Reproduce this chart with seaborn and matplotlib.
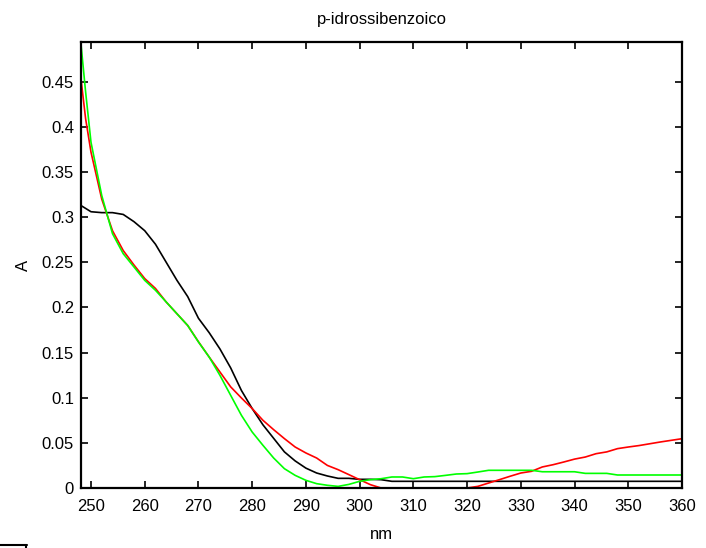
import numpy as np
import pandas as pd
import matplotlib
matplotlib.use("Agg")
import matplotlib.pyplot as plt
from matplotlib.lines import Line2D
import seaborn as sns

# Absorbance spectra of p-hydroxybenzoic acid, wavelength in nm
nm_black = [248.1, 250, 252, 254, 256, 258, 260, 262, 264, 266, 268, 270, 272, 274,
            276, 278, 280, 282, 284, 286, 288, 290, 292, 294, 296, 298, 300, 302,
            304, 306, 310, 320, 330, 340, 350, 360]
a_black = [0.313, 0.306, 0.305, 0.305, 0.303, 0.295, 0.285, 0.270, 0.250, 0.230,
           0.212, 0.188, 0.172, 0.154, 0.133, 0.108, 0.088, 0.070, 0.055, 0.040,
           0.030, 0.022, 0.0166, 0.0133, 0.0107, 0.0107, 0.0096, 0.0096, 0.0092,
           0.0074, 0.0074, 0.0074, 0.0074, 0.0074, 0.0074, 0.0074]

nm_red = [248.1, 249, 250, 252, 254, 256, 258, 260, 262, 264, 266, 268, 270, 272,
          274, 276, 278, 280, 282, 284, 286, 288, 290, 292, 294, 296, 298, 300,
          302, 304, 306, 310, 316, 320, 322, 324, 326, 328, 330, 332, 334, 336,
          338, 340, 342, 344, 346, 348, 350, 352, 354, 356, 358, 360]
a_red = [0.455, 0.409, 0.372, 0.320, 0.285, 0.263, 0.247, 0.232, 0.221, 0.206,
         0.193, 0.180, 0.162, 0.145, 0.1285, 0.112, 0.0997, 0.088, 0.075, 0.0646,
         0.0547, 0.0454, 0.0388, 0.0332, 0.025, 0.0203, 0.0148, 0.0092, 0.0037,
         0.0, 0.0, 0.0, 0.0, 0.0, 0.0018, 0.0055, 0.0092, 0.013, 0.0166, 0.0185,
         0.0233, 0.0258, 0.0288, 0.032, 0.0343, 0.038, 0.040, 0.0436, 0.0454,
         0.047, 0.049, 0.051, 0.0528, 0.0546]

nm_green = [248.1, 249, 250, 252, 254, 256, 258, 260, 262, 264, 266, 268, 270, 272,
            274, 276, 278, 280, 282, 284, 286, 288, 290, 292, 294, 296, 298, 300,
            302, 304, 306, 308, 310, 312, 314, 316, 318, 320, 322, 324, 326, 328,
            330, 332, 334, 336, 338, 340, 342, 344, 346, 348, 350, 355, 360]
a_green = [0.494, 0.4386, 0.383, 0.324, 0.2817, 0.2595, 0.2448, 0.230, 0.219,
           0.206, 0.193, 0.180, 0.1617, 0.145, 0.1248, 0.1026, 0.0805, 0.062,
           0.0473, 0.0332, 0.0214, 0.014, 0.0085, 0.0048, 0.003, 0.0018, 0.004,
           0.0074, 0.0092, 0.0103, 0.0122, 0.0122, 0.0103, 0.0122, 0.0126, 0.014,
           0.0155, 0.0159, 0.0177, 0.0196, 0.0196, 0.0196, 0.0196, 0.0196, 0.018,
           0.018, 0.018, 0.018, 0.0162, 0.0162, 0.0162, 0.0144, 0.0144, 0.0144,
           0.0144]

x_ticks = [250, 260, 270, 280, 290, 300, 310, 320, 330, 340, 350, 360]
y_ticks = [0, 0.05, 0.1, 0.15, 0.2, 0.25, 0.3, 0.35, 0.4, 0.45]
y_tick_labels = ["0", "0.05", "0.1", "0.15", "0.2", "0.25", "0.3", "0.35", "0.4", "0.45"]

sns.set_style("white")
plt.rcParams["font.family"] = ["Liberation Sans", "DejaVu Sans"]
fs = 12

fig = plt.figure(figsize=(7.06, 5.48), dpi=100)
ax = fig.add_axes([81 / 706, 1 - 488 / 548, (682 - 81) / 706, (488 - 42) / 548])

series = [
    (nm_black, a_black, "black"),
    (nm_red, a_red, "#ff0000"),
    (nm_green, a_green, "#00ff00"),
]
for xs, ys, col in series:
    df = pd.DataFrame({"nm": xs, "A": ys})
    sns.lineplot(data=df, x="nm", y="A", color=col, lw=1.2, ax=ax,
                 estimator=None, sort=False)

ax.set_xlim(248.14, 360)
ax.set_ylim(0, 0.494)
ax.set_xticks(x_ticks)
ax.set_xticklabels([str(t) for t in x_ticks])
ax.set_yticks(y_ticks)
ax.set_yticklabels(y_tick_labels)

for side in ["left", "right", "top", "bottom"]:
    ax.spines[side].set_visible(True)
    ax.spines[side].set_color("black")
    ax.spines[side].set_linewidth(1.6)

ax.tick_params(axis="both", which="both", direction="in", length=5, width=1.2,
               color="black", labelcolor="black", labelsize=fs,
               top=True, right=True, bottom=True, left=True)
ax.tick_params(axis="x", pad=8)
ax.tick_params(axis="y", pad=5)

ax.set_title("p-idrossibenzoico", fontsize=fs, pad=13, color="black")
ax.set_xlabel("nm", fontsize=fs, labelpad=9, color="black")
ax.set_ylabel("A", fontsize=fs, labelpad=8, color="black")

# small frame fragment in the lower-left corner
fig.add_artist(Line2D([0, 27 / 706], [1 - 545 / 548, 1 - 545 / 548],
                      color="black", lw=1.5, transform=fig.transFigure))
fig.add_artist(Line2D([26 / 706, 26 / 706], [1 - 545 / 548, 0],
                      color="black", lw=1.5, transform=fig.transFigure))

fig.savefig("out.png", dpi=100)
